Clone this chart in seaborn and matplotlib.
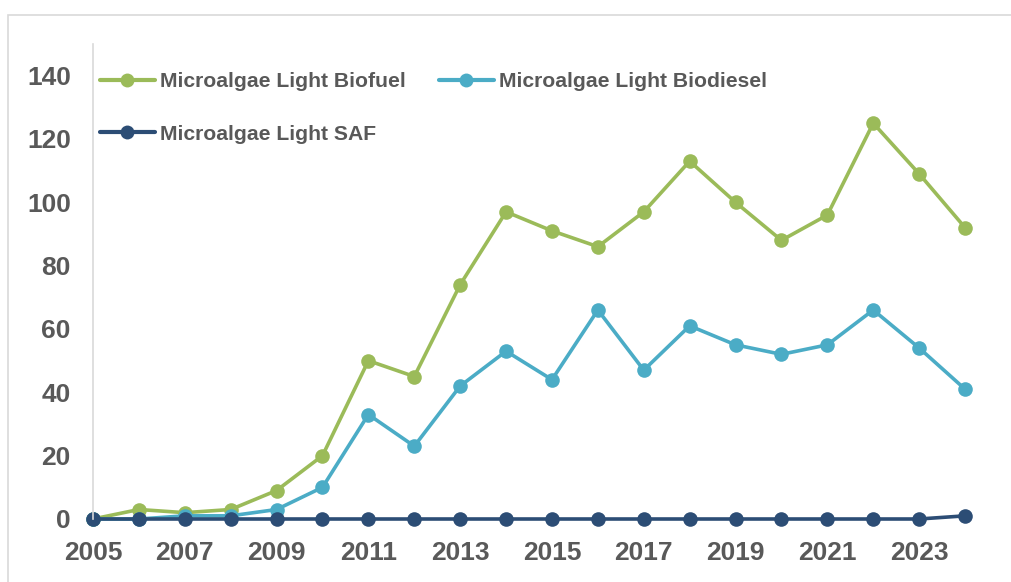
import matplotlib
matplotlib.use("Agg")
import matplotlib.pyplot as plt
import seaborn as sns
import pandas as pd
from matplotlib.patches import Rectangle
from matplotlib.lines import Line2D

years = list(range(2005, 2025))
biofuel = [0, 3, 2, 3, 9, 20, 50, 45, 74, 97, 91, 86, 97, 113, 100, 88, 96, 125, 109, 92]
biodiesel = [0, 0, 1, 1, 3, 10, 33, 23, 42, 53, 44, 66, 47, 61, 55, 52, 55, 66, 54, 41]
saf = [0, 0, 0, 0, 0, 0, 0, 0, 0, 0, 0, 0, 0, 0, 0, 0, 0, 0, 0, 1]
series_names = ["Microalgae Light Biofuel", "Microalgae Light Biodiesel", "Microalgae Light SAF"]
colors = ["#9BBB59", "#4BACC6", "#2C4D75"]
x_ticks = list(range(2005, 2024, 2))
y_ticks = list(range(0, 141, 20))

df = pd.DataFrame({
    "Year": years * 3,
    "Value": biofuel + biodiesel + saf,
    "Series": [series_names[0]] * len(years) + [series_names[1]] * len(years) + [series_names[2]] * len(years),
})

sns.set_style("white")
plt.rcParams["font.family"] = ["Liberation Sans", "DejaVu Sans"]
text_color = "#595959"

fig = plt.figure(figsize=(10.12, 5.82), dpi=100)
W, H = 1012, 582
fig.patches.append(Rectangle((8 / W, -0.1), 1.2, (582 - 15) / H + 0.1, transform=fig.transFigure,
                             fill=False, edgecolor="#D9D9D9", linewidth=1.2))
ax = fig.add_axes([93 / W, (582 - 519) / H, (988 - 93) / W, (519 - 44) / H])

sns.lineplot(data=df, x="Year", y="Value", hue="Series", hue_order=series_names,
             palette=colors, marker="o", markersize=10.5, markeredgewidth=0,
             linewidth=2.6, ax=ax, legend=False)

ax.set_xlim(2005, 2024.5)
ax.set_ylim(0, 150)
ax.set_xticks(x_ticks)
ax.set_yticks(y_ticks)
ax.set_xlabel("")
ax.set_ylabel("")
for s in ["top", "right", "bottom"]:
    ax.spines[s].set_visible(False)
ax.spines["left"].set_color("#D9D9D9")
ax.spines["left"].set_linewidth(1.2)
ax.tick_params(axis="both", length=0, pad=16, labelsize=19, labelcolor=text_color)
for lab in ax.get_xticklabels() + ax.get_yticklabels():
    lab.set_fontweight("bold")
for ln in ax.lines:
    ln.set_clip_on(False)

handles = [Line2D([], [], color=c, marker="o", markersize=10, markeredgewidth=0, linewidth=3) for c in colors]
order = [0, 2, 1]
leg = ax.legend([handles[i] for i in order], [series_names[i] for i in order],
                ncol=2, loc="upper left", bbox_to_anchor=((100 - 93) / (988 - 93), (519 - 72) / (519 - 44)),
                frameon=False, borderaxespad=0, borderpad=0, handlelength=2.6, handletextpad=0.25,
                columnspacing=1.55, labelspacing=1.6,
                prop={"family": "Liberation Sans", "weight": "bold", "size": 15.2})
for t in leg.get_texts():
    t.set_color(text_color)

fig.savefig("out.png", dpi=100)
